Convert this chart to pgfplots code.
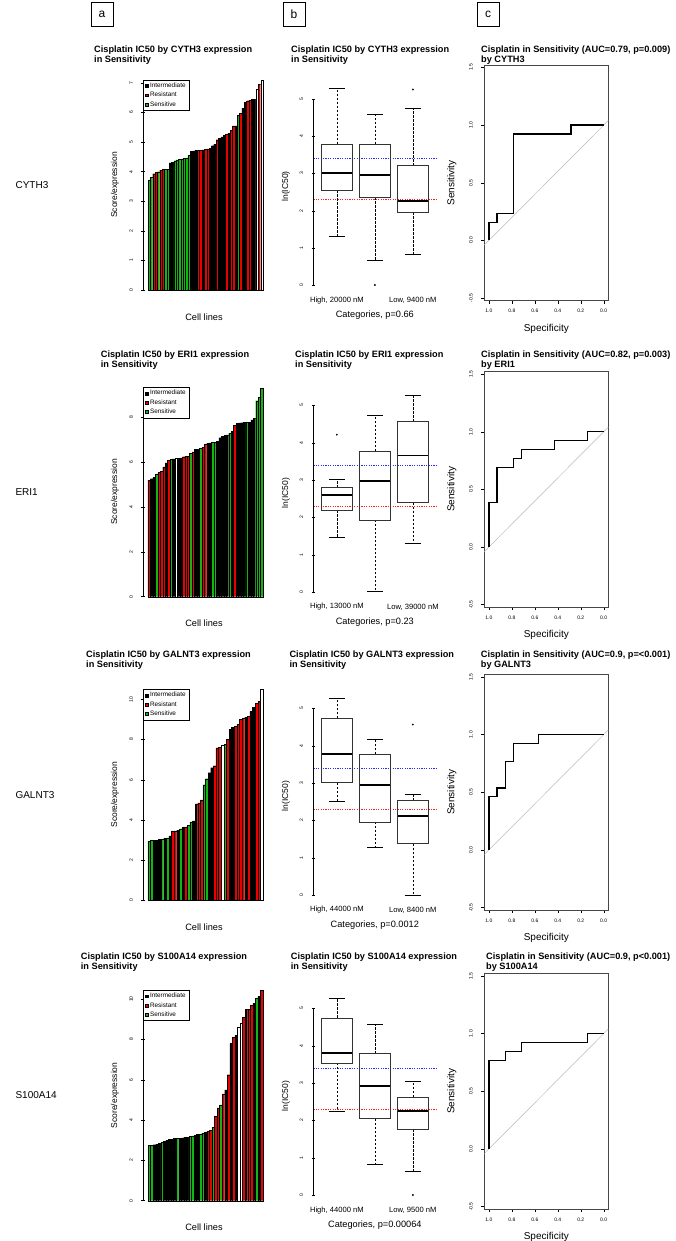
\documentclass[border=0pt]{standalone}
\usepackage{fontspec}
\setmainfont{Liberation Sans}
\usepackage{pgfplots}
\pgfplotsset{compat=1.18}
\usepgfplotslibrary{statistics}

\definecolor{rgreen}{RGB}{20,180,20}
\definecolor{rred}{RGB}{235,0,0}
\definecolor{rframe}{RGB}{70,70,70}
\definecolor{rblue}{RGB}{40,40,255}
\definecolor{rdot}{RGB}{255,30,30}

\tikzset{catlab/.style={font=\fontsize{7.6}{9}\selectfont, anchor=center, yshift=-15pt}}

\pgfplotsset{
  /pgfplots/boxplot/draw/whisker/.code 2 args={%
    \draw[line width=0.5pt, dash pattern=on 2.4pt off 1.6pt] (boxplot cs:#1) -- (boxplot cs:#2);
    \draw[line width=0.5pt] (boxplot whisker cs:#2,0) -- (boxplot whisker cs:#2,1);
  },
  rbase/.style={
    scale only axis, anchor=south west, clip=false,
    tick align=outside, major tick length=3.2pt,
    tick style={black, line width=0.4pt},
    ticklabel style={font=\fontsize{5}{6}\selectfont},
    /pgf/number format/assume math mode=true,
    yticklabel style={rotate=90, anchor=south},
    yticklabel shift=5pt,
    ylabel style={font=\fontsize{8.5}{10}\selectfont, anchor=center},
    xlabel style={font=\fontsize{9.2}{11}\selectfont, anchor=center},
  },
  barax/.style={rbase, axis lines=left, axis line style={draw=none}, xtick=\empty,
    width=122pt, ymin=0,
    xlabel={Cell lines},
    ylabel={Score/expression},
    ylabel style={at={(axis description cs:-0.23,0.5)}},
    legend cell align=left,
    legend style={at={(0,1)}, anchor=north west, draw=black, line width=0.5pt, fill=white,
      font=\fontsize{6.4}{7}\selectfont, inner xsep=1.5pt, inner ysep=0.8pt, row sep=-0.9pt},
    legend image code/.code={\fill[##1] (0pt,-1.4pt) rectangle (2.8pt,1.4pt);},
  },
  barsty/.style={ybar, bar width=1, bar shift=0pt, draw=black, line width=0.3pt, forget plot},
  boxax/.style={rbase, axis lines=left, axis line style={draw=none}, xtick=\empty,
    width=123.1pt, height=212.6pt, xmin=0.38, xmax=3.62, ymin=-0.2, ymax=5.5, ytick={0,1,2,3,4,5},
    ylabel={ln(IC50)},
    ylabel style={at={(axis description cs:-0.222,0.5)}},
    xlabel style={at={(axis description cs:0.5,-0.106)}},
    boxplot/draw direction=y,
    boxplot/every box/.style={draw=black!80, line width=0.6pt},
    boxplot/every median/.style={line width=1.9pt},
  },
  bstat/.style={black, mark=*, mark size=0.7pt, mark options={solid}},
  hline/.style={line width=0.9pt, dash pattern=on 1.2pt off 1.2pt},
  rocax/.style={rbase, axis lines=box, xtick pos=left, ytick pos=left,
    axis line style={rframe, line width=0.7pt},
    width=124pt, height=235.2pt, x dir=reverse,
    xmin=-0.04, xmax=1.04, ymin=-0.52, ymax=1.52,
    xtick={0,0.2,0.4,0.6,0.8,1}, ytick={-0.5,0,0.5,1,1.5},
    /pgf/number format/fixed, /pgf/number format/fixed zerofill, /pgf/number format/precision=1,
    xticklabel shift=2pt,
    xlabel={Specificity}, ylabel={Sensitivity},
    ylabel style={at={(axis description cs:-0.196,0.5)}},
    xlabel style={at={(axis description cs:0.5,-0.085)}},
  },
}

% #1 intermediate (black), #2 resistant (red), #3 sensitive (green), #4 no class (white)
\newcommand{\bars}[4]{%
  \addplot[barsty, fill=black] coordinates {#1};
  \addplot[barsty, fill=rred] coordinates {#2};
  \addplot[barsty, fill=rgreen] coordinates {#3};
  \addplot[barsty, fill=white] coordinates {#4};
  \addlegendimage{fill=black}\addlegendentry{Intermediate}
  \addlegendimage{fill=rred}\addlegendentry{Resistant}
  \addlegendimage{fill=rgreen}\addlegendentry{Sensitive}
}
\newcommand{\refl}{%
  \addplot[hline, rblue] coordinates {(0.38,3.4) (3.62,3.4)};
  \addplot[hline, rdot] coordinates {(0.38,2.3) (3.62,2.3)};
  \draw[line width=0.4pt] (axis cs:0.38,0) -- (axis cs:0.38,5);
}
\newcommand{\tfont}{\bfseries\fontsize{9.2}{8.2}\selectfont}

\begin{document}
\begin{tikzpicture}[x=1pt,y=1pt]
\path[use as bounding box] (0,0) rectangle (676,1241);

% column headers
\foreach \xx/\ll in {91/a,283/b,477/c}{
  \draw[line width=0.5pt] (\xx,1215) rectangle (\xx+22,1239);
  \node[font=\fontsize{12}{14}\selectfont] at (\xx+11,1227) {\ll};
}
% row labels
\node[anchor=west, font=\fontsize{10}{12}\selectfont] at (12,1056) {CYTH3};
\node[anchor=west, font=\fontsize{10}{12}\selectfont] at (12,749) {ERI1};
\node[anchor=west, font=\fontsize{10}{12}\selectfont] at (12,446) {GALNT3};
\node[anchor=west, font=\fontsize{10}{12}\selectfont] at (12,146) {S100A14};

% titles
\node[anchor=north west, inner sep=0pt, align=left, font=\tfont] at (94,1195) {Cisplatin IC50 by CYTH3 expression\\in Sensitivity};
\node[anchor=north west, inner sep=0pt, align=left, font=\tfont] at (291,1195) {Cisplatin IC50 by CYTH3 expression\\in Sensitivity};
\node[anchor=north west, inner sep=0pt, align=left, font=\tfont] at (481,1195) {Cisplatin in Sensitivity (AUC=0.79, p=0.009)\\by CYTH3};

\node[anchor=north west, inner sep=0pt, align=left, font=\tfont] at (100.7,890.3) {Cisplatin IC50 by ERI1 expression\\in Sensitivity};
\node[anchor=north west, inner sep=0pt, align=left, font=\tfont] at (295,890.3) {Cisplatin IC50 by ERI1 expression\\in Sensitivity};
\node[anchor=north west, inner sep=0pt, align=left, font=\tfont] at (481,890.3) {Cisplatin in Sensitivity (AUC=0.82, p=0.003)\\by ERI1};

\node[anchor=north west, inner sep=0pt, align=left, font=\tfont] at (86,590.3) {Cisplatin IC50 by GALNT3 expression\\in Sensitivity};
\node[anchor=north west, inner sep=0pt, align=left, font=\tfont] at (289.3,590.3) {Cisplatin IC50 by GALNT3 expression\\in Sensitivity};
\node[anchor=north west, inner sep=0pt, align=left, font=\tfont] at (480.7,590.3) {Cisplatin in Sensitivity (AUC=0.9, p=<0.001)\\by GALNT3};

\node[anchor=north west, inner sep=0pt, align=left, font=\tfont] at (80.7,288.3) {Cisplatin IC50 by S100A14 expression\\in Sensitivity};
\node[anchor=north west, inner sep=0pt, align=left, font=\tfont] at (290.7,288.3) {Cisplatin IC50 by S100A14 expression\\in Sensitivity};
\node[anchor=north west, inner sep=0pt, align=left, font=\tfont] at (486,288.3) {Cisplatin in Sensitivity (AUC=0.9, p<0.001)\\by S100A14};

% ================= ROW 1 =================
\begin{axis}[barax, at={(143pt,951pt)}, height=210pt, ymax=7.1, xmin=-1.63, xmax=50.35,
  ytick={0,1,2,3,4,5,6,7}, xlabel style={at={(axis description cs:0.5,-0.128)}}]
  \bars{(10,4.30) (11,4.32) (19,4.68) (20,4.70) (21,4.72) (24,4.74) (27,4.80) (28,4.88) (29,4.92) (31,5.12) (32,5.18) (33,5.22) (35,5.30) (38,5.55) (41,6.15) (42,6.35) (45,6.45) (46,6.45)}
       {(3,3.93) (4,3.97) (6,4.05) (7,4.07) (22,4.73) (23,4.73) (25,4.76) (26,4.77) (30,5.08) (34,5.27) (36,5.40) (37,5.55) (40,5.97) (43,6.40) (44,6.42) (48,6.95)}
       {(1,3.72) (2,3.80) (5,4.00) (8,4.07) (9,4.07) (12,4.37) (13,4.40) (14,4.42) (15,4.43) (16,4.45) (17,4.47) (18,4.55) (39,5.90)}
       {(47,6.80) (49,7.10)}
  \draw[line width=0.4pt] (axis cs:-1.63,0) -- (axis cs:-1.63,7);
\end{axis}

\begin{axis}[boxax, at={(313.3pt,948.2pt)}, xlabel={Categories, p=0.66}]
  \refl
  \addplot[bstat, boxplot prepared={draw position=1, lower whisker=1.32, lower quartile=2.55, median=3.02, upper quartile=3.78, upper whisker=5.29, box extend=0.8, whisker extend=0.42}] coordinates {};
  \addplot[bstat, boxplot prepared={draw position=2, lower whisker=0.66, lower quartile=2.36, median=2.95, upper quartile=3.78, upper whisker=4.58, box extend=0.8, whisker extend=0.42}] table[row sep=\\, y index=0] {d\\ 0.01\\};
  \addplot[bstat, boxplot prepared={draw position=3, lower whisker=0.84, lower quartile=1.96, median=2.25, upper quartile=3.21, upper whisker=4.74, box extend=0.8, whisker extend=0.42}] table[row sep=\\, y index=0] {d\\ 5.25\\};
  \node[catlab] at (axis cs:1,0) {High, 20000 nM};
  \node[catlab] at (axis cs:3,0) {Low, 9400 nM};
\end{axis}

\begin{axis}[rocax, at={(484.3pt,940.6pt)}]
  \addplot[gray!55, line width=0.5pt] coordinates {(1.04,-0.04) (-0.04,1.04)};
  \addplot[black, line width=1.3pt] coordinates {(1,0) (1,0.154) (0.929,0.154) (0.929,0.231) (0.786,0.231) (0.786,0.923) (0.286,0.923) (0.286,1) (0,1)};
\end{axis}

% ================= ROW 2 =================
\begin{axis}[barax, at={(143pt,644.3pt)}, height=209.4pt, ymax=9.35, xmin=-1.54, xmax=48.32,
  ytick={0,2,4,6,8}, xlabel style={at={(axis description cs:0.5,-0.129)}}]
  \bars{(2,5.27) (3,5.33) (8,5.98) (11,6.15) (13,6.18) (14,6.20) (20,6.57) (21,6.58) (25,6.85) (26,6.87) (29,6.93) (30,7.10) (31,7.15) (32,7.20) (33,7.22) (35,7.38) (37,7.75) (38,7.76) (39,7.77) (40,7.78) (42,7.80) (43,7.90) (44,7.95)}
       {(1,5.20) (5,5.55) (6,5.60) (7,5.80) (9,6.08) (15,6.25) (16,6.26) (17,6.28) (19,6.47) (23,6.68) (24,6.80) (36,7.65)}
       {(4,5.45) (10,6.12) (18,6.40) (22,6.62) (27,6.88) (28,6.88) (34,7.30) (41,7.80) (45,8.75) (46,8.90) (47,9.30)}
       {(12,6.17)}
  \draw[line width=0.4pt] (axis cs:-1.54,0) -- (axis cs:-1.54,8);
\end{axis}

\begin{axis}[boxax, at={(313.3pt,641.5pt)}, xlabel={Categories, p=0.23}]
  \refl
  \addplot[bstat, boxplot prepared={draw position=1, lower whisker=1.47, lower quartile=2.19, median=2.61, upper quartile=2.80, upper whisker=3.02, box extend=0.8, whisker extend=0.42}] table[row sep=\\, y index=0] {d\\ 4.22\\};
  \addplot[bstat, boxplot prepared={draw position=2, lower whisker=0.02, lower quartile=1.93, median=2.98, upper quartile=3.78, upper whisker=4.75, box extend=0.8, whisker extend=0.42}] coordinates {};
  \addplot[bstat, boxplot prepared={draw position=3, lower whisker=1.30, lower quartile=2.40, median=3.66, upper quartile=4.57, upper whisker=5.28, box extend=0.8, whisker extend=0.42}] coordinates {};
  \node[catlab] at (axis cs:1,0) {High, 13000 nM};
  \node[catlab] at (axis cs:3,0) {Low, 39000 nM};
\end{axis}

\begin{axis}[rocax, at={(484.3pt,634pt)}]
  \addplot[gray!55, line width=0.5pt] coordinates {(1.04,-0.04) (-0.04,1.04)};
  \addplot[black, line width=1.3pt] coordinates {(1,0) (1,0.385) (0.929,0.385) (0.929,0.692) (0.786,0.692) (0.786,0.769) (0.714,0.769) (0.714,0.846) (0.429,0.846) (0.429,0.923) (0.143,0.923) (0.143,1) (0,1)};
\end{axis}

% ================= ROW 3 =================
\begin{axis}[barax, at={(143pt,340.7pt)}, height=211pt, ymax=10.5, xmin=-1.41, xmax=45.27,
  ytick={0,2,4,6,8,10}, xlabel style={at={(axis description cs:0.5,-0.128)}}]
  \bars{(3,3.00) (4,3.00) (5,3.02) (7,3.08) (9,3.20) (12,3.48) (14,3.62) (18,3.95) (19,4.80) (24,6.35) (25,6.60) (32,8.50) (33,8.60) (38,9.10) (40,9.40) (41,9.60)}
       {(10,3.45) (11,3.45) (15,3.65) (20,4.85) (21,5.00) (26,6.70) (27,7.58) (28,7.60) (31,8.00) (34,8.65) (35,8.75) (36,9.00) (37,9.05) (39,9.15) (42,9.80) (43,9.90)}
       {(1,2.95) (2,2.97) (6,3.05) (8,3.10) (13,3.55) (16,3.72) (17,3.90) (22,5.75) (23,6.05) (30,7.75)}
       {(29,7.70) (44,10.50)}
  \draw[line width=0.4pt] (axis cs:-1.41,0) -- (axis cs:-1.41,10);
\end{axis}

\begin{axis}[boxax, at={(313.3pt,338.5pt)}, xlabel={Categories, p=0.0012}]
  \refl
  \addplot[bstat, boxplot prepared={draw position=1, lower whisker=2.52, lower quartile=3.01, median=3.79, upper quartile=4.74, upper whisker=5.27, box extend=0.8, whisker extend=0.42}] coordinates {};
  \addplot[bstat, boxplot prepared={draw position=2, lower whisker=1.29, lower quartile=1.96, median=2.94, upper quartile=3.77, upper whisker=4.17, box extend=0.8, whisker extend=0.42}] coordinates {};
  \addplot[bstat, boxplot prepared={draw position=3, lower whisker=0.0, lower quartile=1.38, median=2.13, upper quartile=2.53, upper whisker=2.70, box extend=0.8, whisker extend=0.42}] table[row sep=\\, y index=0] {d\\ 4.57\\};
  \node[catlab] at (axis cs:1,0) {High, 44000 nM};
  \node[catlab] at (axis cs:3,0) {Low, 8400 nM};
\end{axis}

\begin{axis}[rocax, at={(484.3pt,331.1pt)}]
  \addplot[gray!55, line width=0.5pt] coordinates {(1.04,-0.04) (-0.04,1.04)};
  \addplot[black, line width=1.3pt] coordinates {(1,0) (1,0.462) (0.929,0.462) (0.929,0.538) (0.857,0.538) (0.857,0.769) (0.786,0.769) (0.786,0.923) (0.571,0.923) (0.571,1) (0,1)};
\end{axis}

% ================= ROW 4 =================
\begin{axis}[barax, at={(143pt,40.3pt)}, height=210.6pt, ymax=10.45, xmin=-1.46, xmax=46.28,
  ytick={0,2,4,6,8,10}, xlabel style={at={(axis description cs:0.5,-0.128)}}]
  \bars{(3,2.78) (4,2.80) (5,2.85) (7,2.95) (8,3.00) (9,3.05) (10,3.05) (11,3.08) (13,3.10) (14,3.12) (15,3.15) (16,3.15) (19,3.25) (20,3.30) (23,3.40) (31,5.50) (33,7.80) (35,8.20) (39,9.50) (42,9.80) (44,10.15)}
       {(24,3.45) (25,3.50) (27,4.20) (28,4.60) (30,5.30) (32,6.25) (34,8.10) (38,9.10) (40,9.50) (41,9.70) (45,10.45)}
       {(1,2.75) (2,2.75) (6,2.90) (12,3.10) (17,3.20) (18,3.22) (21,3.30) (22,3.35) (26,3.65) (29,4.75) (43,10.05)}
       {(36,8.60) (37,8.80)}
  \draw[line width=0.4pt] (axis cs:-1.46,0) -- (axis cs:-1.46,10);
\end{axis}

\begin{axis}[boxax, at={(313.3pt,38.5pt)}, xlabel={Categories, p=0.00064}]
  \refl
  \addplot[bstat, boxplot prepared={draw position=1, lower whisker=2.25, lower quartile=3.54, median=3.80, upper quartile=4.75, upper whisker=5.28, box extend=0.8, whisker extend=0.42}] coordinates {};
  \addplot[bstat, boxplot prepared={draw position=2, lower whisker=0.82, lower quartile=2.05, median=2.92, upper quartile=3.79, upper whisker=4.58, box extend=0.8, whisker extend=0.42}] coordinates {};
  \addplot[bstat, boxplot prepared={draw position=3, lower whisker=0.65, lower quartile=1.76, median=2.26, upper quartile=2.63, upper whisker=3.04, box extend=0.8, whisker extend=0.42}] table[row sep=\\, y index=0] {d\\ 0.0\\};
  \node[catlab] at (axis cs:1,0) {High, 44000 nM};
  \node[catlab] at (axis cs:3,0) {Low, 9500 nM};
\end{axis}

\begin{axis}[rocax, at={(484.3pt,32.1pt)}]
  \addplot[gray!55, line width=0.5pt] coordinates {(1.04,-0.04) (-0.04,1.04)};
  \addplot[black, line width=1.3pt] coordinates {(1,0) (1,0.769) (0.857,0.769) (0.857,0.846) (0.714,0.846) (0.714,0.923) (0.143,0.923) (0.143,1) (0,1)};
\end{axis}

\end{tikzpicture}
\end{document}
